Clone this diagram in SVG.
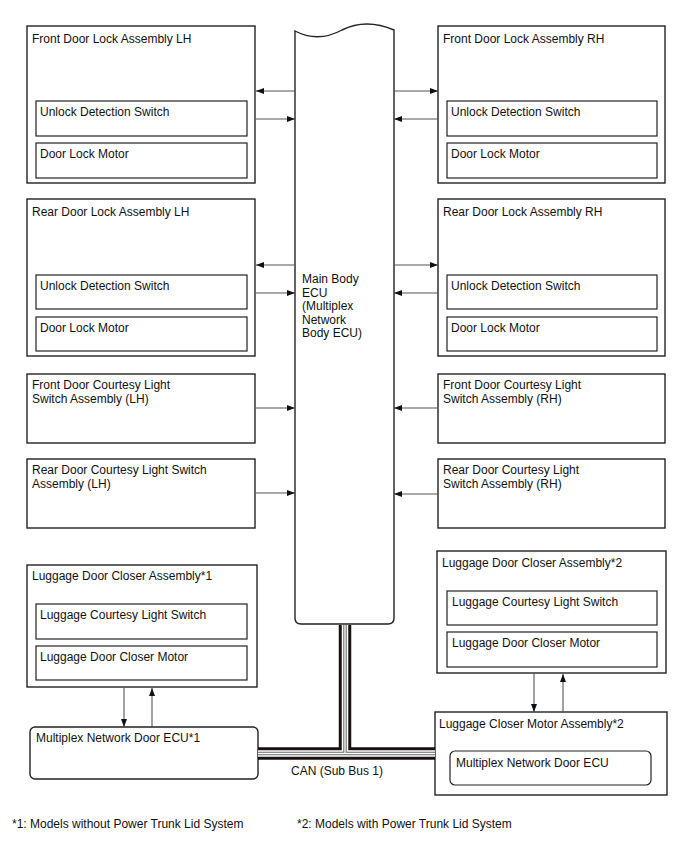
<svg xmlns="http://www.w3.org/2000/svg" width="688" height="852" viewBox="0 0 688 852">
<style>
text{font-family:"Liberation Sans",Arial,sans-serif;font-size:12px;fill:#111}
.box{fill:#fff;stroke:#222;stroke-width:1.4}
.inner{fill:#fff;stroke:#222;stroke-width:1.2}
.ar{stroke:#555;stroke-width:1.1;fill:none;marker-end:url(#ah)}
</style>
<defs>
<marker id="ah" markerUnits="userSpaceOnUse" markerWidth="8" markerHeight="6" refX="8" refY="3" orient="auto">
<path d="M0,0 L8,3 L0,6 z" fill="#111"/>
</marker>
</defs>
<rect width="688" height="852" fill="#fff"/>

<g id="ecu">
<path class="box" d="M295,31 Q318,43 342,30 Q366,18 394,30 L394,618 Q394,624 388,624 L301,624 Q295,624 295,618 Z"/>
<text x="302" y="283">Main Body</text>
<text x="302" y="297">ECU</text>
<text x="302" y="310">(Multiplex</text>
<text x="302" y="324">Network</text>
<text x="302" y="337">Body ECU)</text>
</g>

<g id="front-lh">
<rect class="box" x="27" y="26" width="228" height="157"/>
<text x="32" y="43">Front Door Lock Assembly LH</text>
<rect class="inner" x="36" y="101" width="211" height="35"/>
<text x="40" y="116">Unlock Detection Switch</text>
<rect class="inner" x="36" y="143" width="211" height="35"/>
<text x="40" y="158">Door Lock Motor</text>
</g>

<g id="front-rh">
<rect class="box" x="438" y="26" width="227" height="157"/>
<text x="443" y="43">Front Door Lock Assembly RH</text>
<rect class="inner" x="447" y="101" width="210" height="35"/>
<text x="451" y="116">Unlock Detection Switch</text>
<rect class="inner" x="447" y="143" width="210" height="35"/>
<text x="451" y="158">Door Lock Motor</text>
</g>

<g id="rear-lh">
<rect class="box" x="27" y="199" width="228" height="157"/>
<text x="32" y="216">Rear Door Lock Assembly LH</text>
<rect class="inner" x="36" y="275" width="211" height="34"/>
<text x="40" y="290">Unlock Detection Switch</text>
<rect class="inner" x="36" y="317" width="211" height="34"/>
<text x="40" y="332">Door Lock Motor</text>
</g>

<g id="rear-rh">
<rect class="box" x="438" y="199" width="227" height="157"/>
<text x="443" y="216">Rear Door Lock Assembly RH</text>
<rect class="inner" x="447" y="275" width="210" height="34"/>
<text x="451" y="290">Unlock Detection Switch</text>
<rect class="inner" x="447" y="317" width="210" height="34"/>
<text x="451" y="332">Door Lock Motor</text>
</g>

<g id="front-courtesy-lh">
<rect class="box" x="27" y="374" width="228" height="69"/>
<text x="32" y="389">Front Door Courtesy Light</text>
<text x="32" y="403">Switch Assembly (LH)</text>
</g>

<g id="rear-courtesy-lh">
<rect class="box" x="27" y="459" width="228" height="69"/>
<text x="32" y="474">Rear Door Courtesy Light Switch</text>
<text x="32" y="488">Assembly (LH)</text>
</g>

<g id="front-courtesy-rh">
<rect class="box" x="438" y="374" width="227" height="69"/>
<text x="443" y="389">Front Door Courtesy Light</text>
<text x="443" y="403">Switch Assembly (RH)</text>
</g>

<g id="rear-courtesy-rh">
<rect class="box" x="438" y="459" width="227" height="69"/>
<text x="443" y="474">Rear Door Courtesy Light</text>
<text x="443" y="488">Switch Assembly (RH)</text>
</g>

<g id="luggage-closer-1">
<rect class="box" x="27" y="565" width="230" height="122"/>
<text x="32" y="580">Luggage Door Closer Assembly*1</text>
<rect class="inner" x="36" y="604" width="211" height="35"/>
<text x="40" y="619">Luggage Courtesy Light Switch</text>
<rect class="inner" x="36" y="646" width="211" height="34"/>
<text x="40" y="661">Luggage Door Closer Motor</text>
</g>

<g id="door-ecu-1">
<rect class="box" x="30" y="727" width="228" height="52" rx="5"/>
<text x="36" y="742">Multiplex Network Door ECU*1</text>
</g>

<g id="luggage-closer-2">
<rect class="box" x="437" y="551" width="229" height="122"/>
<text x="442" y="567">Luggage Door Closer Assembly*2</text>
<rect class="inner" x="447" y="591" width="210" height="34"/>
<text x="452" y="606">Luggage Courtesy Light Switch</text>
<rect class="inner" x="447" y="632" width="210" height="35"/>
<text x="452" y="647">Luggage Door Closer Motor</text>
</g>

<g id="closer-motor-2">
<rect class="box" x="435" y="712" width="232" height="83"/>
<text x="439" y="728">Luggage Closer Motor Assembly*2</text>
<rect class="inner" x="450" y="751" width="201" height="34" rx="5"/>
<text x="456" y="767">Multiplex Network Door ECU</text>
</g>

<g id="connectors">
<line class="ar" x1="295" y1="91" x2="256" y2="91"/>
<line class="ar" x1="256" y1="119" x2="295" y2="119"/>
<line class="ar" x1="394" y1="91" x2="438" y2="91"/>
<line class="ar" x1="438" y1="119" x2="394" y2="119"/>
<line class="ar" x1="295" y1="265" x2="256" y2="265"/>
<line class="ar" x1="256" y1="293" x2="295" y2="293"/>
<line class="ar" x1="394" y1="265" x2="438" y2="265"/>
<line class="ar" x1="438" y1="293" x2="394" y2="293"/>
<line class="ar" x1="256" y1="408" x2="295" y2="408"/>
<line class="ar" x1="256" y1="493" x2="295" y2="493"/>
<line class="ar" x1="438" y1="408" x2="394" y2="408"/>
<line class="ar" x1="438" y1="494" x2="394" y2="494"/>
<line class="ar" x1="124" y1="688" x2="124" y2="727"/>
<line class="ar" x1="152" y1="727" x2="152" y2="688"/>
<line class="ar" x1="534" y1="674" x2="534" y2="712"/>
<line class="ar" x1="563" y1="712" x2="563" y2="674"/>
<g id="can-bus" fill="none">
<path d="M345,625 V753.5 M258,753.5 H435" stroke="#1a1010" stroke-width="12.5"/>
<path d="M345,625 V753.5 M258,753.5 H435" stroke="#fff" stroke-width="6.5"/>
<path d="M345,625 V753.5 M258,753.5 H435" stroke="#666" stroke-width="3.4"/>
<path d="M345,625 V753.5 M258,753.5 H435" stroke="#fff" stroke-width="1.3"/>
</g>
<text x="291" y="775">CAN (Sub Bus 1)</text>
</g>

<g id="notes">
<text x="12" y="828">*1: Models without Power Trunk Lid System</text>
<text x="297" y="828">*2: Models with Power Trunk Lid System</text>
</g>
</svg>
